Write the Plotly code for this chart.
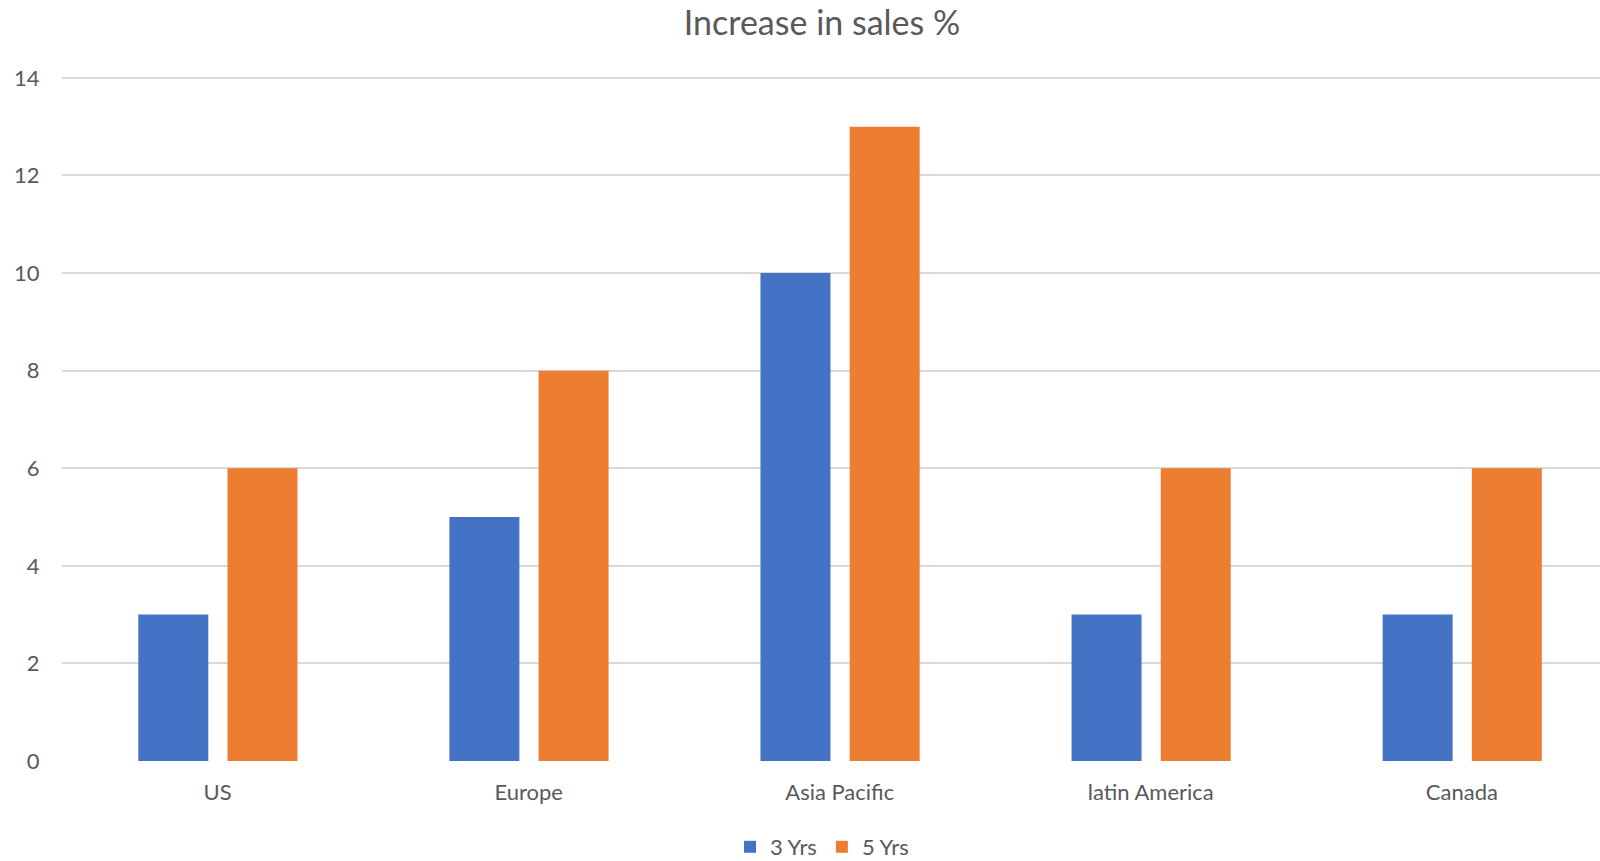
import plotly.graph_objects as go

categories = ["US", "Europe", "Asia Pacific", "latin America", "Canada"]
series_names = ["3 Yrs", "5 Yrs"]
yrs3 = [3, 5, 10, 3, 3]
yrs5 = [6, 8, 13, 6, 6]
y_ticks = [0, 2, 4, 6, 8, 10, 12, 14]

FONT = "Lato"
TXT = "#595959"
W, H = 1600, 861

fig = go.Figure()
fig.add_trace(go.Bar(x=categories, y=yrs3, name=series_names[0],
                     marker=dict(color="#4472C4", line=dict(width=0)),
                     width=0.225, offset=-0.2547))
fig.add_trace(go.Bar(x=categories, y=yrs5, name=series_names[1],
                     marker=dict(color="#ED7D31", line=dict(width=0)),
                     width=0.225, offset=0.032))

fig.update_layout(
    width=W, height=H,
    paper_bgcolor="white", plot_bgcolor="white",
    margin=dict(l=62, r=0, t=73, b=100, autoexpand=False),
    barmode="overlay",
    font=dict(family=FONT, color=TXT, size=22),
    title=dict(text="Increase in sales %", x=822 / W, y=1 - 23 / H,
               xref="container", yref="container",
               xanchor="center", yanchor="middle",
               font=dict(family=FONT, size=34, color=TXT)),
    legend=dict(orientation="h", xref="container", yref="container",
                x=822 / W, y=1 - 847 / H, xanchor="center", yanchor="middle",
                font=dict(family=FONT, size=22, color=TXT),
                itemwidth=30, tracegroupgap=0),
    xaxis=dict(type="category", range=[-0.5, 4.444], showgrid=False,
               showline=False, zeroline=False,
               ticks="outside", ticklen=12, tickcolor="rgba(0,0,0,0)",
               tickfont=dict(family=FONT, size=22, color=TXT)),
    yaxis=dict(range=[0, 14.1], tickvals=y_ticks, showgrid=True,
               gridcolor="#D9D9D9", gridwidth=1.5, zeroline=False,
               showline=False,
               ticks="outside", ticklen=17, tickcolor="rgba(0,0,0,0)",
               tickfont=dict(family=FONT, size=22, color=TXT)),
)

fig.write_html("out.html", config={"displayModeBar": False},
               post_script="document.body.style.margin='0';document.body.style.padding='0';")
